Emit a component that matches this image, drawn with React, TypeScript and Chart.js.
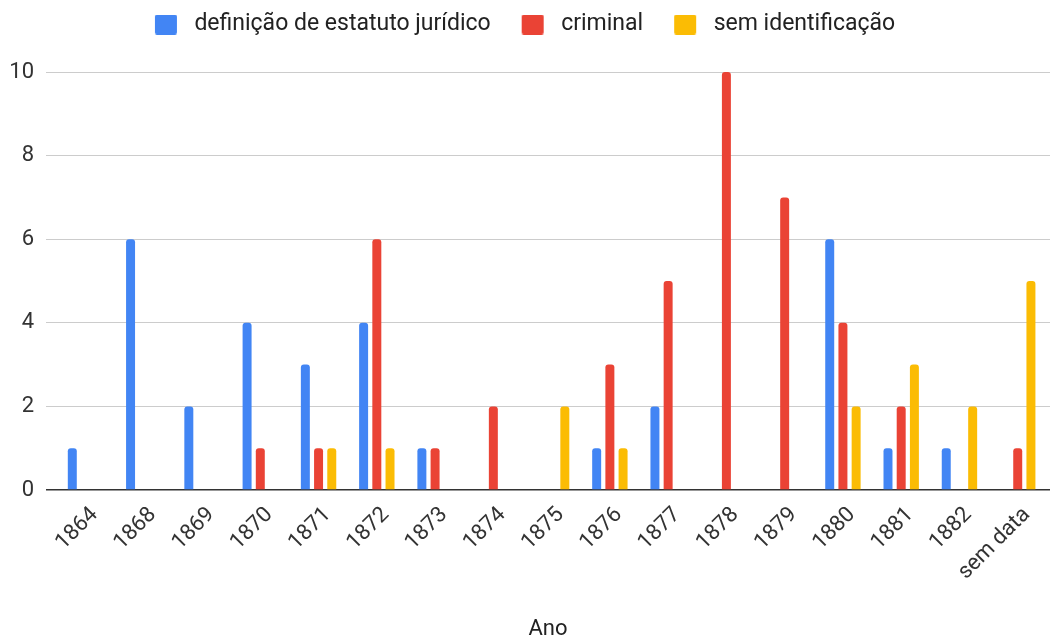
import React, { useEffect, useRef } from 'react';
import { Chart, registerables } from 'chart.js';

Chart.register(...registerables);

const categories = ['1864', '1868', '1869', '1870', '1871', '1872', '1873', '1874', '1875', '1876', '1877', '1878', '1879', '1880', '1881', '1882', 'sem data'];
const definicao = [1, 6, 2, 4, 3, 4, 1, null, null, 1, 2, null, null, 6, 1, 1, null];
const criminal = [null, null, null, 1, 1, 6, 1, 2, null, 3, 5, 10, 7, 4, 2, null, 1];
const semIdentificacao = [null, null, null, null, 1, 1, null, null, 2, 1, null, null, null, 2, 3, 2, 5];
const seriesNames = ['definição de estatuto jurídico', 'criminal', 'sem identificação'];
const seriesColors = ['#4285F4', '#EA4335', '#FBBC04'];
const yMax = 10;
const yStep = 2;
const xTitle = 'Ano';

const FAMILY = 'Roboto, "Noto Sans", sans-serif';
const TEXT = '#333333';

function makeSwatch(color: string): HTMLCanvasElement {
  const c = document.createElement('canvas');
  c.width = 49;
  c.height = 20;
  const g = c.getContext('2d')!;
  g.fillStyle = color;
  g.beginPath();
  if ((g as any).roundRect) {
    (g as any).roundRect(21, 0, 22, 20, 2);
  } else {
    g.rect(21, 0, 22, 20);
  }
  g.fill();
  return c;
}

export default function App() {
  const ref = useRef<HTMLCanvasElement | null>(null);

  useEffect(() => {
    if (!ref.current) return;
    const allSeries = [definicao, criminal, semIdentificacao];
    const swatches = seriesColors.map(makeSwatch);

    const legendSpacer = {
      id: 'legendSpacer',
      beforeInit(chart: any) {
        const legend = chart.legend;
        if (!legend) return;
        const origFit = legend.fit;
        legend.fit = function () {
          origFit.call(this);
          this.height += 26;
        };
      },
    };

    const chart = new Chart(ref.current, {
      type: 'bar',
      data: {
        datasets: seriesNames.map((name, k) => ({
          label: name,
          data: allSeries[k].map((v, i) => ({ x: i, y: v })),
          backgroundColor: seriesColors[k],
          borderRadius: { topLeft: 3, topRight: 3, bottomLeft: 0, bottomRight: 0 },
          categoryPercentage: 0.68,
          barPercentage: 0.68,
        })),
      },
      options: {
        animation: false,
        responsive: true,
        maintainAspectRatio: false,
        layout: { padding: { top: 3, left: -21, right: 1, bottom: 0 } },
        plugins: {
          tooltip: { enabled: false },
          legend: {
            position: 'top',
            align: 'center',
            labels: {
              usePointStyle: true,
              pointStyleWidth: 49,
              boxHeight: 20,
              padding: 10,
              color: '#222222',
              font: { family: FAMILY, size: 23 },
              generateLabels: (ch: any) => {
                const items = (Chart.defaults.plugins.legend.labels as any).generateLabels(ch);
                return items.map((it: any, i: number) => ({
                  ...it,
                  pointStyle: swatches[i],
                  lineWidth: 0,
                  strokeStyle: 'transparent',
                }));
              },
            },
          },
        },
        scales: {
          x: {
            type: 'linear',
            min: -0.678,
            max: 16.554,
            offset: false,
            grid: { display: false },
            border: { display: false },
            ticks: {
              stepSize: 1,
              autoSkip: false,
              includeBounds: false,
              minRotation: 45,
              maxRotation: 45,
              padding: 4,
              labelOffset: 9,
              color: TEXT,
              font: { family: FAMILY, size: 22 },
              callback: (v: any) => (Number.isInteger(v) && categories[v] !== undefined ? categories[v] : ''),
            },
            title: {
              display: true,
              text: xTitle,
              color: '#222222',
              font: { family: FAMILY, size: 22 },
              padding: { top: 0, bottom: -3 },
            },
            afterFit: (s: any) => {
              s.height = 150;
            },
          },
          y: {
            min: 0,
            max: yMax,
            border: { display: false },
            grid: {
              drawTicks: false,
              color: (ctx: any) => (ctx.tick && ctx.tick.value === 0 ? '#333333' : '#cccccc'),
              lineWidth: (ctx: any) => (ctx.tick && ctx.tick.value === 0 ? 1.5 : 1),
            },
            ticks: {
              stepSize: yStep,
              padding: 12,
              color: TEXT,
              font: { family: FAMILY, size: 22 },
            },
            afterFit: (s: any) => {
              s.width = 67;
            },
          },
        },
      } as any,
      plugins: [legendSpacer],
    });

    return () => chart.destroy();
  }, []);

  return (
    <div style={{ position: 'absolute', left: 0, top: 0, width: 1051, height: 640 }}>
      <canvas ref={ref} />
    </div>
  );
}
